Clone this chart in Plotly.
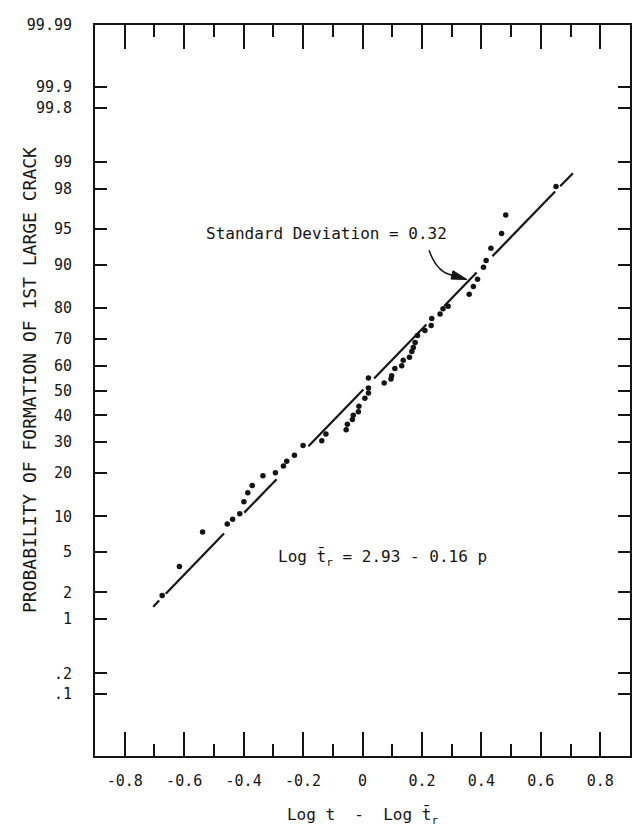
import plotly.graph_objects as go
from statistics import NormalDist

_nd = NormalDist()


def zq(p):
    return None if p is None else _nd.inv_cdf(p / 100.0)


# ---- data ----
log_t_diff = [
    -0.674, -0.616, -0.538, -0.455, -0.437, -0.413, -0.399, -0.386, -0.371,
    -0.335, -0.293, -0.266, -0.255, -0.229, -0.200,
    -0.137, -0.123, -0.055, -0.051, -0.034, -0.031, -0.014, -0.012, 0.008,
    0.020, 0.020, 0.020, 0.073, 0.096, 0.098, 0.109, 0.132, 0.137, 0.158,
    0.166, 0.171, 0.177, 0.185, 0.210, 0.231, 0.233, 0.261, 0.271, 0.288,
    0.359, 0.373, 0.387, 0.407, 0.416, 0.432, 0.468, 0.482, 0.651,
]
prob_pct = [
    1.85, 3.67, 7.5, 8.7, 9.5, 10.5, 12.9, 14.9, 16.7,
    19.3, 20.1, 22.1, 23.6, 25.5, 28.8,
    30.5, 32.9, 34.5, 36.6, 38.4, 40.1, 41.4, 43.6, 46.9,
    49.0, 51.0, 55.1, 53.0, 54.7, 56.0, 58.9, 59.9, 62.1, 63.2,
    65.4, 66.9, 68.7, 71.2, 72.9, 74.6, 76.8, 78.2, 79.7, 80.4,
    83.6, 85.5, 87.1, 89.5, 90.7, 92.6, 94.5, 96.3, 98.1,
]

# fitted line (standard deviation 0.32), drawn as broken segments
fit_x = [-0.704, -0.684, None, -0.662, -0.466, None, -0.398, -0.289, None,
         -0.182, 0.003, None, 0.039, 0.215, None, 0.275, 0.384, None,
         0.437, 0.648, None, 0.665, 0.708]
fit_p = [1.39, 1.63, None, 1.93, 7.27, None, 10.7, 18.3, None,
         28.5, 50.4, None, 54.9, 74.9, None, 80.5, 88.5, None,
         91.4, 97.86, None, 98.12, 98.65]

y_tick_pct = [0.1, 0.2, 1, 2, 5, 10, 20, 30, 40, 50, 60, 70, 80, 90, 95,
              98, 99, 99.8, 99.9, 99.99]
y_tick_text = [".1", ".2", "1", "2", "5", "10", "20", "30", "40", "50", "60",
               "70", "80", "90", "95", "98", "99", "99.8", "99.9", "99.99"]
x_tick_vals = [-0.8, -0.6, -0.4, -0.2, 0, 0.2, 0.4, 0.6, 0.8]
x_tick_text = ["-0.8", "-0.6", "-0.4", "-0.2", "0", "0.2", "0.4", "0.6", "0.8"]
x_minor_vals = [-0.7, -0.5, -0.3, -0.1, 0.1, 0.3, 0.5, 0.7]

INK = "#141414"
FONT = "DejaVu Sans Mono"

fig = go.Figure()
fig.add_trace(go.Scatter(
    x=fit_x, y=[zq(p) for p in fit_p], mode="lines",
    line=dict(color=INK, width=2.2), connectgaps=False, hoverinfo="skip",
))
fig.add_trace(go.Scatter(
    x=log_t_diff, y=[zq(p) for p in prob_pct], mode="markers",
    marker=dict(color=INK, size=5.5),
))

y_lo, y_hi = zq(0.01), zq(99.99)

fig.update_layout(
    width=640, height=831,
    margin=dict(l=87, r=18, t=8, b=83),
    paper_bgcolor="white", plot_bgcolor="white",
    showlegend=False,
    font=dict(family=FONT, color=INK, size=15),
    xaxis=dict(
        range=[-0.9, 0.9], showgrid=False, zeroline=False,
        showline=True, linecolor=INK, linewidth=2, mirror="allticks",
        tickmode="array", tickvals=x_tick_vals, ticktext=x_tick_text,
        ticks="inside", ticklen=24, tickwidth=1.5, tickcolor=INK,
        minor=dict(tickmode="array", tickvals=x_minor_vals, ticks="inside",
                   ticklen=12, tickwidth=1.5, tickcolor=INK, showgrid=False),
        tickfont=dict(family=FONT, size=15, color=INK),
        ticklabelstandoff=10,
        title=dict(text="Log t  -  Log t\u0304<sub>r</sub>",
                   font=dict(family=FONT, size=16, color=INK), standoff=20),
    ),
    yaxis=dict(
        range=[y_lo, y_hi], showgrid=False, zeroline=False,
        showline=True, linecolor=INK, linewidth=2, mirror="allticks",
        tickmode="array", tickvals=[zq(p) for p in y_tick_pct],
        ticktext=y_tick_text,
        ticks="inside", ticklen=12, tickwidth=1.5, tickcolor=INK,
        tickfont=dict(family=FONT, size=15, color=INK),
        ticklabelstandoff=18,
    ),
    annotations=[
        dict(text="PROBABILITY OF FORMATION OF 1ST LARGE CRACK",
             xref="paper", yref="paper", x=-0.1458, y=0.515,
             textangle=-90, showarrow=False,
             font=dict(family=FONT, size=18, color=INK)),
        dict(text="Standard Deviation = 0.32", xref="x", yref="y",
             x=-0.121, y=1.60, showarrow=False,
             font=dict(family=FONT, size=16, color=INK)),
        dict(text="Log t\u0304<sub>r</sub> = 2.93 - 0.16 p", xref="x", yref="y",
             x=0.067, y=-1.70, showarrow=False,
             font=dict(family=FONT, size=16, color=INK)),
    ],
    shapes=[
        dict(type="path", xref="x", yref="y",
             path="M 0.224,1.426 Q 0.251,1.194 0.305,1.172",
             line=dict(color=INK, width=1.5)),
        dict(type="path", xref="x", yref="y",
             path="M 0.3517,1.1288 L 0.3046,1.2193 L 0.2978,1.1338 Z",
             fillcolor=INK, line=dict(color=INK, width=1)),
    ],
)

fig.write_html("out.html")
